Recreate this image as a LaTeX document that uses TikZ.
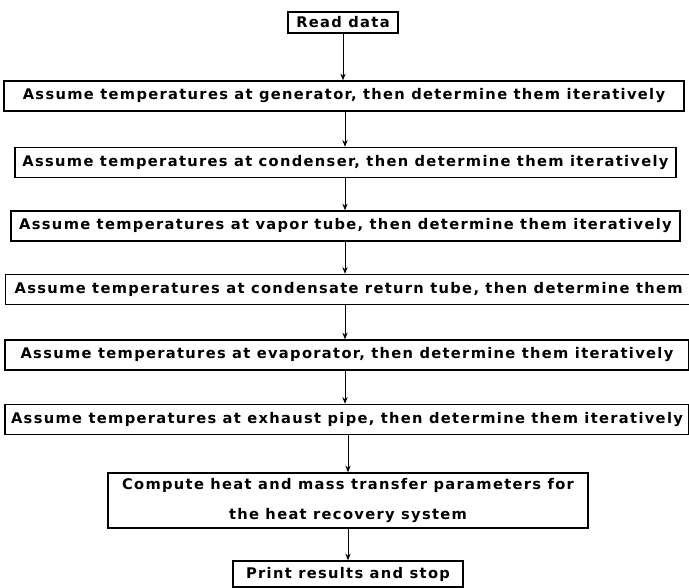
\documentclass[tikz,border=0pt]{standalone}
\usepackage{fontspec}
\usetikzlibrary{arrows.meta}
\newfontfamily\flowfont{DejaVu Sans}[LetterSpace=9]

\begin{document}
\begin{tikzpicture}[>={Stealth[length=5pt, width=4pt]}, x=0.75pt, y=-0.75pt]
\tikzset{
  stepbox/.style={
    draw, rectangle, line width=1.1pt,
    minimum height=22.5pt, inner sep=0pt,
    align=center,
    font=\flowfont\bfseries\fontsize{11pt}{13pt}\selectfont
  }
}
\useasboundingbox (0,0) rectangle (689,588);

\node[stepbox, minimum width=82.5pt, minimum height=15.75pt] (read) at (343,22.5) {Read data};
\node[stepbox, minimum width=510pt]    (gen)   at (344,96)    {Assume temperatures at generator, then determine them iteratively};
\node[stepbox, minimum width=495.75pt] (cond)  at (345.5,162.5) {Assume temperatures at condenser, then determine them iteratively};
\node[stepbox, minimum width=501.75pt] (vapor) at (345.5,226) {Assume temperatures at vapor tube, then determine them iteratively};
\node[stepbox, minimum width=514.5pt, anchor=west] (ret) at (5,289.5) {Assume temperatures at condensate return tube, then determine them};
\node[stepbox, minimum width=513pt]    (evap)  at (347,355)   {Assume temperatures at evaporator, then determine them iteratively};
\node[stepbox, minimum width=513pt]    (exh)   at (347,419.5) {Assume temperatures at exhaust pipe, then determine them iteratively};
\node[stepbox, minimum width=360pt, minimum height=41.25pt] (comp) at (348,500.5) {Compute heat and mass transfer parameters for\\[9pt] the heat recovery system};
\node[stepbox, minimum width=172.5pt, minimum height=19.5pt] (print) at (348,574) {Print results and stop};

\coordinate (axis) at (345,0);

\draw[->, line width=0.75pt] (read) -- (read |- gen.north);
\draw[->, line width=0.75pt] (gen.south -| axis) -- (cond.north -| axis);
\draw[->, line width=0.75pt] (cond.south -| axis) -- (vapor.north -| axis);
\draw[->, line width=0.75pt] (vapor.south -| axis) -- (ret.north -| axis);
\draw[->, line width=0.75pt] (ret.south -| axis) -- (evap.north -| axis);
\draw[->, line width=0.75pt] (evap.south -| axis) -- (exh.north -| axis);
\draw[->, line width=0.75pt] (exh.south -| comp) -- (comp);
\draw[->, line width=0.75pt] (comp) -- (print);
\end{tikzpicture}
\end{document}
